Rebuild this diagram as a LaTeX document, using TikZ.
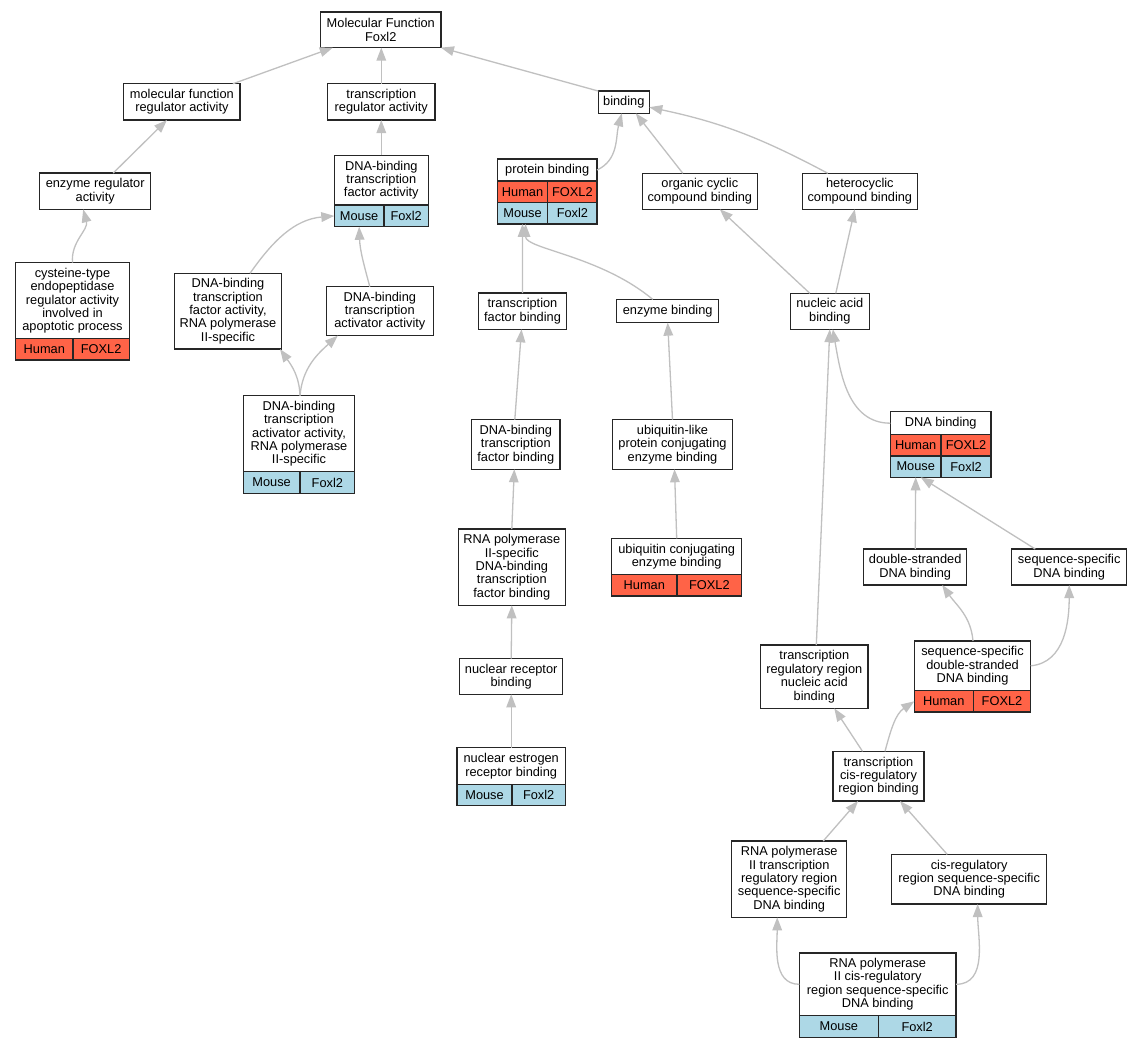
\documentclass[tikz,border=0pt]{standalone}
\usepackage{fontspec}
\setmainfont{Liberation Sans}
\usetikzlibrary{arrows.meta}
\definecolor{humc}{HTML}{FF6347}
\definecolor{mouc}{HTML}{ADD8E6}
\definecolor{edgec}{HTML}{C0C0C0}
\begin{document}
\begin{tikzpicture}[x=1pt,y=-1pt,
 box/.style={draw=black!85,line width=1.2pt,fill=white,align=center,inner sep=0pt,outer sep=0pt,font=\fontsize{12.8}{13.4}\selectfont},
 hcell/.style={box,fill=humc,anchor=north west},
 mcell/.style={box,fill=mouc,anchor=north west},
 edge/.style={draw=edgec,line width=1.3pt,-{Triangle[length=13pt,width=9.6pt]}},
]
\useasboundingbox[fill=white] (0,0) rectangle (1143,1048);

% plain nodes
\node[box,minimum width=120.3,minimum height=35.7] (mf) at (380.8,29.8) {Molecular Function\\Foxl2};
\node[box,minimum width=116.3,minimum height=36.3] (mfra) at (181.9,101.9) {molecular function\\regulator activity};
\node[box,minimum width=107.3,minimum height=36.3] (tra) at (381.3,101.9) {transcription\\regulator activity};
\node[box,minimum width=51,minimum height=22.3] (bind) at (623.8,102.2) {binding};
\node[box,minimum width=111,minimum height=36.3] (era) at (95.2,191.2) {enzyme regulator\\activity};
\node[box,minimum width=94,minimum height=49.7] (dbtfa) at (381.3,180.2) {DNA-binding\\transcription\\factor activity};
\node[mcell,minimum width=49.7,minimum height=21.7] (dbtfaM) at (dbtfa.south west) {Mouse};
\node[mcell,minimum width=44.3,minimum height=21.7] (dbtfaF) at (dbtfaM.north east) {Foxl2};

\node[box,minimum width=99.7,minimum height=22] (pb) at (547.2,170) {protein binding};
\node[hcell,minimum width=50.4,minimum height=21.7] (pbH) at (pb.south west) {Human};
\node[hcell,minimum width=49.3,minimum height=21.7] (pbHF) at (pbH.north east) {FOXL2};
\node[mcell,minimum width=50.4,minimum height=21.3] (pbM) at (pbH.south west) {Mouse};
\node[mcell,minimum width=49.3,minimum height=21.3] (pbMF) at (pbM.north east) {Foxl2};

\node[box,minimum width=115,minimum height=36] (occ) at (699.8,191.3) {organic cyclic\\compound binding};
\node[box,minimum width=115,minimum height=36] (hcc) at (859.8,191.3) {heterocyclic\\compound binding};

\node[box,minimum width=113.6,minimum height=76] (cyst) at (72.5,300.7) {cysteine-type\\endopeptidase\\regulator activity\\involved in\\apoptotic process};
\node[hcell,minimum width=57.3,minimum height=21.3] (cystH) at (cyst.south west) {Human};
\node[hcell,minimum width=56.3,minimum height=21.3] (cystF) at (cystH.north east) {FOXL2};

\node[box,minimum width=106.7,minimum height=75.7] (dbtfa2) at (228,311.2) {DNA-binding\\transcription\\factor activity,\\RNA polymerase\\II-specific};
\node[box,minimum width=107,minimum height=49] (dbta) at (379.8,311.2) {DNA-binding\\transcription\\activator activity};
\node[box,minimum width=88.4,minimum height=36.3] (tfb) at (522.5,311.2) {transcription\\factor binding};
\node[box,minimum width=102,minimum height=23.3] (eb) at (667.7,311) {enzyme binding};
\node[box,minimum width=79,minimum height=36] (nab) at (829.8,311.3) {nucleic acid\\binding};

\node[box,minimum width=111.4,minimum height=76] (dbtaa2) at (299,433.7) {DNA-binding\\transcription\\activator activity,\\RNA polymerase\\II-specific};
\node[mcell,minimum width=56.7,minimum height=21.6] (dbtaa2M) at (dbtaa2.south west) {Mouse};
\node[mcell,minimum width=54.7,minimum height=21.6] (dbtaa2F) at (dbtaa2M.north east) {Foxl2};

\node[box,minimum width=88.3,minimum height=49.6] (dbtfb) at (515.8,444.5) {DNA-binding\\transcription\\factor binding};
\node[box,minimum width=119.7,minimum height=49.6] (ubl) at (672.5,444.5) {ubiquitin-like\\protein conjugating\\enzyme binding};

\node[box,minimum width=100.7,minimum height=23] (dna) at (940.7,423.2) {DNA binding};
\node[hcell,minimum width=50.7,minimum height=21.3] (dnaH) at (dna.south west) {Human};
\node[hcell,minimum width=50,minimum height=21.3] (dnaHF) at (dnaH.north east) {FOXL2};
\node[mcell,minimum width=50.7,minimum height=21.3] (dnaM) at (dnaH.south west) {Mouse};
\node[mcell,minimum width=50,minimum height=21.3] (dnaMF) at (dnaM.north east) {Foxl2};

\node[box,minimum width=107,minimum height=76.3] (rdbtfb) at (511.8,567.2) {RNA polymerase\\II-specific\\DNA-binding\\transcription\\factor binding};

\node[box,minimum width=130,minimum height=36.3] (ubc) at (676.7,556.5) {ubiquitin conjugating\\enzyme binding};
\node[hcell,minimum width=65.3,minimum height=21.3] (ubcH) at (ubc.south west) {Human};
\node[hcell,minimum width=64.7,minimum height=21.3] (ubcF) at (ubcH.north east) {FOXL2};

\node[box,minimum width=103,minimum height=36] (dsdb) at (915.2,567) {double-stranded\\DNA binding};
\node[box,minimum width=115,minimum height=36] (ssdb) at (1069.2,567) {sequence-specific\\DNA binding};

\node[box,minimum width=116.4,minimum height=49.7] (ssds) at (972.5,665.8) {sequence-specific\\double-stranded\\DNA binding};
\node[hcell,minimum width=59,minimum height=21.3] (ssdsH) at (ssds.south west) {Human};
\node[hcell,minimum width=57.4,minimum height=21.3] (ssdsF) at (ssdsH.north east) {FOXL2};

\node[box,minimum width=107.3,minimum height=63.3] (trr) at (814.3,676.7) {transcription\\regulatory region\\nucleic acid\\binding};
\node[box,minimum width=103,minimum height=35.6] (nrb) at (511.2,676.5) {nuclear receptor\\binding};

\node[box,minimum width=108.3,minimum height=36.6] (nerb) at (511.2,766) {nuclear estrogen\\receptor binding};
\node[mcell,minimum width=55,minimum height=21] (nerbM) at (nerb.south west) {Mouse};
\node[mcell,minimum width=53.3,minimum height=21] (nerbF) at (nerbM.north east) {Foxl2};

\node[box,minimum width=91,minimum height=49.7] (tcr) at (878.5,776.2) {transcription\\cis-regulatory\\region binding};
\node[box,minimum width=115,minimum height=76.3] (rtrr) at (789.2,879.2) {RNA polymerase\\II transcription\\regulatory region\\sequence-specific\\DNA binding};
\node[box,minimum width=155,minimum height=49.7] (cis) at (969.2,879.2) {cis-regulatory\\region sequence-specific\\DNA binding};

\node[box,minimum width=156.7,minimum height=62.7] (rcis) at (877.7,984.3) {RNA polymerase\\II cis-regulatory\\region sequence-specific\\DNA binding};
\node[mcell,minimum width=79,minimum height=21.6] (rcisM) at (rcis.south west) {Mouse};
\node[mcell,minimum width=77.7,minimum height=21.6] (rcisF) at (rcisM.north east) {Foxl2};

% edges (child -> parent)
\draw[edge] ([xshift=51]mfra.north) -- ([xshift=-48]mf.south);
\draw[edge] (tra.north) -- (tra.north |- mf.south);
\draw[edge] (bind.north west) -- (mf.south east);
\draw[edge] ([xshift=18]era.north) -- ([xshift=-15]mfra.south);
\draw[edge] (dbtfa.north) -- (tra.south);
\draw[edge] (pb.east) to[out=25,in=-105] ([xshift=-2]bind.south);
\draw[edge] ([xshift=-17]occ.north) -- ([xshift=12]bind.south);
\draw[edge] ([xshift=-32]hcc.north) to[out=152,in=-12] ([yshift=-5]bind.east);
\draw[edge] (cyst.north) to[out=95,in=-75] ([xshift=-12]era.south);
\draw[edge] ([xshift=22]dbtfa2.north) to[out=55,in=185] (dbtfaM.west);
\draw[edge] ([xshift=-10]dbta.north) to[out=105,in=-88] (dbtfaM.south);
\draw[edge] ([xshift=1]dbtaa2.north) to[out=92,in=-55] ([xshift=52]dbtfa2.south);
\draw[edge] ([xshift=1]dbtaa2.north) to[out=85,in=-138] ([xshift=-42]dbta.south);
\draw[edge] (tfb.north) -- (pbM.south);
\draw[edge] ([xshift=-15]eb.north) .. controls +(-53,-44) and +(0,25) .. ([xshift=3]pbM.south);
\draw[edge] ([xshift=-20]nab.north) -- ([xshift=20]occ.south);
\draw[edge] ([xshift=6]nab.north) -- ([xshift=-5]hcc.south);
\draw[edge] ([xshift=-1]dbtfb.north) -- ([xshift=-1]tfb.south);
\draw[edge] (ubl.north) -- (eb.south);
\draw[edge] (dna.west) to[out=180,in=-80] ([xshift=3]nab.south);
\draw[edge] ([xshift=2]trr.north) -- (nab.south);
\draw[edge] (rdbtfb.north) -- ([xshift=-1.5]dbtfb.south);
\draw[edge] (ubc.north) -- ([xshift=2]ubl.south);
\draw[edge] (dsdb.north) -- (dnaM.south);
\draw[edge] ([xshift=-34]ssdb.north) -- ([xshift=5]dnaM.south);
\draw[edge] (nrb.north) -- (rdbtfb.south);
\draw[edge] ([xshift=0.5]ssds.north) to[out=95,in=-55] ([xshift=27]dsdb.south);
\draw[edge] (ssds.east) to[out=5,in=-90] (ssdb.south);
\draw[edge] (nerb.north) -- (nrb.south);
\draw[edge] ([xshift=-16]tcr.north) -- ([xshift=20]trr.south);
\draw[edge] ([xshift=6.5]tcr.north) to[out=75,in=-146] (ssdsH.west);
\draw[edge] ([xshift=34]rtrr.north) -- ([xshift=-20.5]tcr.south);
\draw[edge] ([xshift=-22]cis.north) -- ([xshift=21.5]tcr.south);
\draw[edge] (rcis.west) to[out=180,in=-90] ([xshift=-12]rtrr.south);
\draw[edge] (rcis.east) to[out=0,in=-90] ([xshift=8.5]cis.south);
\end{tikzpicture}
\end{document}
